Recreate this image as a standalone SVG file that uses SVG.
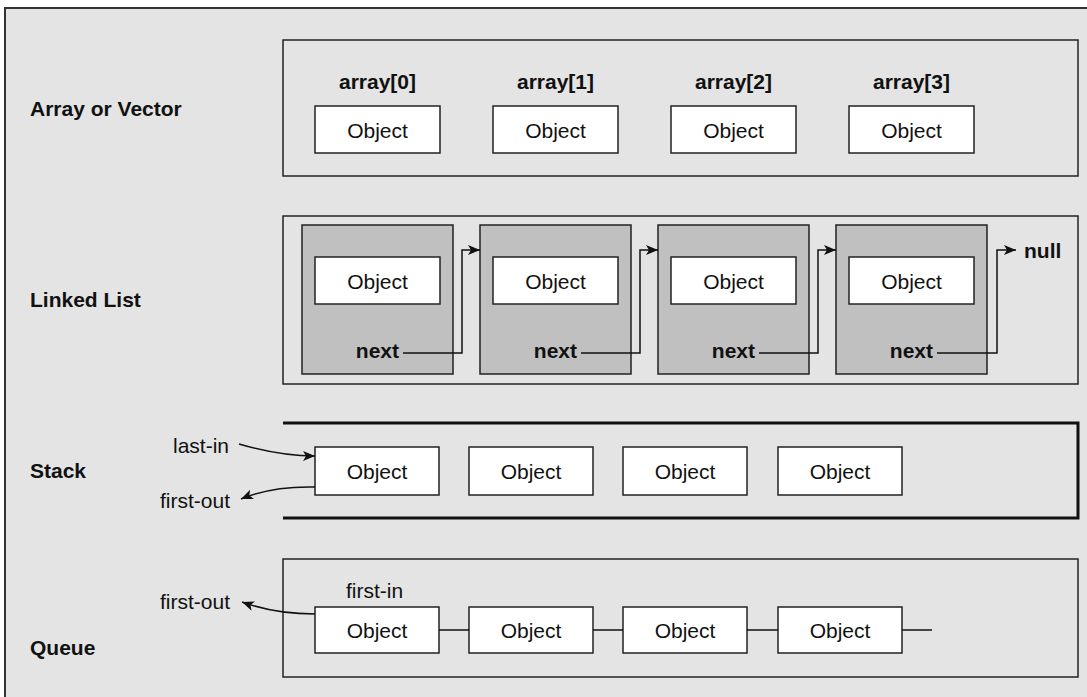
<svg xmlns="http://www.w3.org/2000/svg" width="1087" height="697" viewBox="0 0 1087 697">
<style>
.lbl{font-family:"Liberation Sans",Arial,sans-serif;font-size:21px;font-weight:bold;fill:#111}
.txt{font-family:"Liberation Sans",Arial,sans-serif;font-size:21px;fill:#111}
.obj{fill:#fff;stroke:#222;stroke-width:1.5}
.frame{fill:none;stroke:#222;stroke-width:1.5}
.node{fill:#c0c0c0;stroke:#222;stroke-width:1.5}
.conn{fill:none;stroke:#111;stroke-width:1.5}
.thick{fill:none;stroke:#111;stroke-width:3}
</style>
<defs>
<marker id="ah" viewBox="0 0 12 10" refX="12" refY="5" markerWidth="12" markerHeight="10" markerUnits="userSpaceOnUse" orient="auto">
<path d="M0,0 L12,5 L0,10 L3,5 Z" fill="#111"/>
</marker>
</defs>
<rect x="0" y="0" width="1087" height="697" fill="#fff"/>
<rect x="5" y="8" width="1100" height="720" fill="#e4e4e4" stroke="#333" stroke-width="2"/>

<g id="array">
<rect class="frame" x="283" y="40" width="795" height="136"/>
<text class="lbl" x="30" y="116">Array or Vector</text>
<text class="lbl" x="377.5" y="89" text-anchor="middle">array[0]</text>
<text class="lbl" x="555.5" y="89" text-anchor="middle">array[1]</text>
<text class="lbl" x="733.5" y="89" text-anchor="middle">array[2]</text>
<text class="lbl" x="911.5" y="89" text-anchor="middle">array[3]</text>
<g id="a0"><rect class="obj" x="315" y="106" width="125" height="47"/><text class="txt" x="377.5" y="138" text-anchor="middle">Object</text></g>
<g id="a1"><rect class="obj" x="493" y="106" width="125" height="47"/><text class="txt" x="555.5" y="138" text-anchor="middle">Object</text></g>
<g id="a2"><rect class="obj" x="671" y="106" width="125" height="47"/><text class="txt" x="733.5" y="138" text-anchor="middle">Object</text></g>
<g id="a3"><rect class="obj" x="849" y="106" width="125" height="47"/><text class="txt" x="911.5" y="138" text-anchor="middle">Object</text></g>
</g>

<g id="linkedlist">
<rect class="frame" x="283" y="216" width="795" height="168"/>
<text class="lbl" x="30" y="307">Linked List</text>
<g id="n0"><rect class="node" x="302" y="225" width="151" height="149"/><rect class="obj" x="315" y="257" width="125" height="47"/><text class="txt" x="377.5" y="289" text-anchor="middle">Object</text><text class="lbl" x="399" y="358" text-anchor="end">next</text></g>
<g id="n1"><rect class="node" x="480" y="225" width="151" height="149"/><rect class="obj" x="493" y="257" width="125" height="47"/><text class="txt" x="555.5" y="289" text-anchor="middle">Object</text><text class="lbl" x="577" y="358" text-anchor="end">next</text></g>
<g id="n2"><rect class="node" x="658" y="225" width="151" height="149"/><rect class="obj" x="671" y="257" width="125" height="47"/><text class="txt" x="733.5" y="289" text-anchor="middle">Object</text><text class="lbl" x="755" y="358" text-anchor="end">next</text></g>
<g id="n3"><rect class="node" x="836" y="225" width="151" height="149"/><rect class="obj" x="849" y="257" width="125" height="47"/><text class="txt" x="911.5" y="289" text-anchor="middle">Object</text><text class="lbl" x="933" y="358" text-anchor="end">next</text></g>
<text class="lbl" x="1024" y="258">null</text>
</g>

<g id="stack">
<path class="thick" d="M283,423 H1078 V518 H283"/>
<text class="lbl" x="30" y="478">Stack</text>
<text class="txt" x="229" y="453" text-anchor="end">last-in</text>
<text class="txt" x="230" y="508" text-anchor="end">first-out</text>
<g id="s0"><rect class="obj" x="315" y="447" width="124" height="48"/><text class="txt" x="377" y="479" text-anchor="middle">Object</text></g>
<g id="s1"><rect class="obj" x="469" y="447" width="124" height="48"/><text class="txt" x="531" y="479" text-anchor="middle">Object</text></g>
<g id="s2"><rect class="obj" x="623" y="447" width="124" height="48"/><text class="txt" x="685" y="479" text-anchor="middle">Object</text></g>
<g id="s3"><rect class="obj" x="778" y="447" width="124" height="48"/><text class="txt" x="840" y="479" text-anchor="middle">Object</text></g>
</g>

<g id="queue">
<rect class="frame" x="283" y="559" width="795" height="118"/>
<text class="lbl" x="30" y="655">Queue</text>
<text class="txt" x="346" y="598">first-in</text>
<text class="txt" x="230" y="609" text-anchor="end">first-out</text>
<g id="q0"><rect class="obj" x="315" y="607" width="124" height="46"/><text class="txt" x="377" y="638" text-anchor="middle">Object</text></g>
<g id="q1"><rect class="obj" x="469" y="607" width="124" height="46"/><text class="txt" x="531" y="638" text-anchor="middle">Object</text></g>
<g id="q2"><rect class="obj" x="623" y="607" width="124" height="46"/><text class="txt" x="685" y="638" text-anchor="middle">Object</text></g>
<g id="q3"><rect class="obj" x="778" y="607" width="124" height="46"/><text class="txt" x="840" y="638" text-anchor="middle">Object</text></g>
</g>

<g id="connectors">
<path class="conn" d="M403,353 H462 V250 H480" marker-end="url(#ah)"/>
<path class="conn" d="M581,353 H640 V250 H658" marker-end="url(#ah)"/>
<path class="conn" d="M759,353 H818 V250 H836" marker-end="url(#ah)"/>
<path class="conn" d="M937,353 H997 V250 H1016" marker-end="url(#ah)"/>
<path class="conn" d="M239,444 Q280,456 315,456" marker-end="url(#ah)"/>
<path class="conn" d="M315,487 Q272,486 241,499" marker-end="url(#ah)"/>
<path class="conn" d="M315,614 Q275,614 242,602" marker-end="url(#ah)"/>
<path class="conn" d="M439,630 H469 M593,630 H623 M747,630 H778 M902,630 H932"/>
</g>
</svg>
